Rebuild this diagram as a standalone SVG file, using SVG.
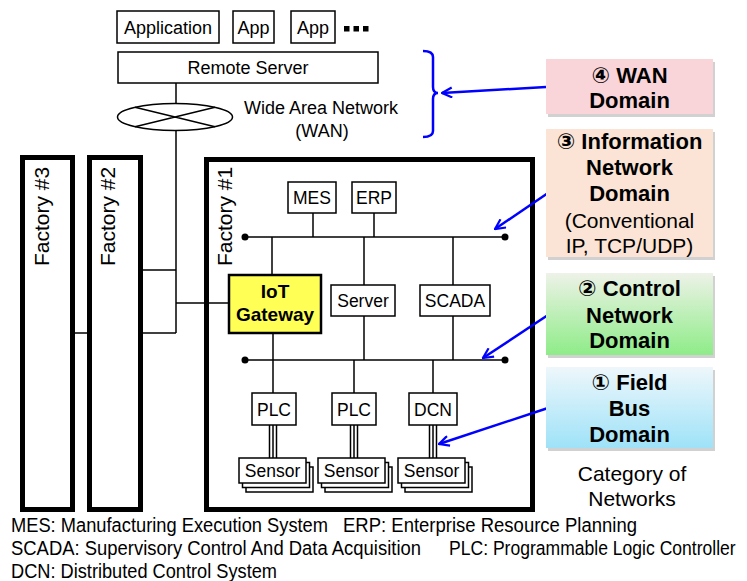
<svg xmlns="http://www.w3.org/2000/svg" width="747" height="581" viewBox="0 0 747 581">
<defs>
<style>
text{font-family:"Liberation Sans","DejaVu Sans",sans-serif;fill:#000}
.lbl{font-size:18px;text-anchor:middle}
.sm{font-size:17.5px;text-anchor:middle}
.box{fill:#fff;stroke:#000;stroke-width:1.5}
.ln{stroke:#000;stroke-width:1.5;fill:none}
.fac{fill:#fff;stroke:#000;stroke-width:5}
.fl{font-size:21px}
.dom{font-size:22px;font-weight:bold;text-anchor:middle}
.domr{font-size:21px;text-anchor:middle}
.blue{stroke:#0000ff;stroke-width:2.5;fill:none}
.leg{font-size:19.5px}
.shd{fill:#9a9a9a;opacity:.45}
</style>
<linearGradient id="gGreen" x1="0" y1="0" x2="0" y2="1"><stop offset="0" stop-color="#eef2e8"/><stop offset="1" stop-color="#8eec88"/></linearGradient>
<linearGradient id="gBlue" x1="0" y1="0" x2="0" y2="1"><stop offset="0" stop-color="#eef7fb"/><stop offset="1" stop-color="#9ee2f8"/></linearGradient>
<marker id="arr" viewBox="0 0 12 12" refX="11" refY="6" markerWidth="12" markerHeight="12" markerUnits="userSpaceOnUse" orient="auto"><path d="M1,1 L11,6 L1,11" fill="none" stroke="#0000ff" stroke-width="2.2"/></marker>
</defs>
<rect width="747" height="581" fill="#fff"/>

<g id="factory3"><rect class="fac" x="22.5" y="157.5" width="50" height="352"/><text class="fl" transform="translate(49,266) rotate(-90)">Factory #3</text></g>
<g id="factory2"><rect class="fac" x="89.5" y="157.5" width="51" height="352"/><text class="fl" transform="translate(115,266) rotate(-90)">Factory #2</text></g>
<g id="factory1"><rect class="fac" x="206.5" y="159.5" width="326" height="350"/><text class="fl" transform="translate(232,266) rotate(-90)">Factory #1</text></g>

<g id="connectors">
<line class="ln" x1="176" y1="83" x2="176" y2="104"/>
<line class="ln" x1="176" y1="130" x2="176" y2="333"/>
<line class="ln" x1="143" y1="270" x2="176" y2="270"/>
<line class="ln" x1="143" y1="333" x2="176" y2="333"/>
<line class="ln" x1="176" y1="303" x2="229" y2="303"/>
<line class="ln" x1="75" y1="333" x2="87" y2="333"/>
<line class="ln" x1="245" y1="237" x2="505" y2="237"/>
<line class="ln" x1="245" y1="360" x2="505" y2="360"/>
<circle cx="245" cy="237" r="3.5"/><circle cx="505" cy="237" r="3.5"/>
<circle cx="245" cy="360" r="3.5"/><circle cx="505" cy="360" r="3.5"/>
<line class="ln" x1="313" y1="213" x2="313" y2="237"/>
<line class="ln" x1="374" y1="213" x2="374" y2="237"/>
<line class="ln" x1="272" y1="237" x2="272" y2="275"/>
<line class="ln" x1="364" y1="237" x2="364" y2="285"/>
<line class="ln" x1="453" y1="237" x2="453" y2="285"/>
<line class="ln" x1="273" y1="333" x2="273" y2="393"/>
<line class="ln" x1="364" y1="316" x2="364" y2="360"/>
<line class="ln" x1="453" y1="316" x2="453" y2="360"/>
<line class="ln" x1="354" y1="360" x2="354" y2="393"/>
<line class="ln" x1="433" y1="360" x2="433" y2="393"/>
<path class="ln" d="M269.5,425V458M273,425V458M276.5,425V458"/>
<path class="ln" d="M350.5,425V458M354,425V458M357.5,425V458"/>
<path class="ln" d="M429.5,425V458M433,425V458M436.5,425V458"/>
<path class="blue" d="M423,51 Q433,51 433,57 L433,87 Q433,93 438,93 Q433,93 433,99 L433,131 Q433,137 423,137"/>
<line class="blue" x1="546" y1="87" x2="442" y2="93" marker-end="url(#arr)"/>
<line class="blue" x1="548" y1="193" x2="495" y2="229" marker-end="url(#arr)"/>
<line class="blue" x1="548" y1="315" x2="483" y2="358" marker-end="url(#arr)"/>
<line class="blue" x1="548" y1="408" x2="439" y2="444" marker-end="url(#arr)"/>
</g>

<g id="application"><rect class="box" x="117" y="11" width="102" height="32"/><text class="lbl" x="168" y="34">Application</text></g>
<g id="app1"><rect class="box" x="233" y="11" width="41" height="32"/><text class="lbl" x="253.5" y="34">App</text></g>
<g id="app2"><rect class="box" x="291" y="11" width="44" height="32"/><text class="lbl" x="313" y="34">App</text></g>
<g id="more"><rect x="344" y="26" width="5.5" height="5.5"/><rect x="353.5" y="26" width="5.5" height="5.5"/><rect x="363" y="26" width="5.5" height="5.5"/></g>
<g id="remote-server"><rect class="box" x="118" y="52" width="260" height="31"/><text class="lbl" x="248" y="74">Remote Server</text></g>
<g id="wan"><ellipse cx="175" cy="117" rx="57.5" ry="13.5" fill="#fff" stroke="#000" stroke-width="1.5"/><path class="ln" d="M135,107.3L215,126.7M135,126.7L215,107.3"/>
<text class="lbl" x="321" y="114">Wide Area Network</text><text class="lbl" x="322" y="137">(WAN)</text></g>

<g id="mes"><rect class="box" x="288" y="182" width="48" height="31"/><text class="sm" x="312" y="204">MES</text></g>
<g id="erp"><rect class="box" x="352" y="182" width="44" height="31"/><text class="sm" x="374" y="204">ERP</text></g>
<g id="iot-gateway"><rect x="229" y="275" width="92" height="58" fill="#ffff55" stroke="#000" stroke-width="2.5"/><text x="275" y="298" font-size="19" font-weight="bold" text-anchor="middle">IoT</text><text x="275" y="321" font-size="19" font-weight="bold" text-anchor="middle">Gateway</text></g>
<g id="server"><rect class="box" x="331" y="285" width="64" height="31"/><text class="sm" x="363" y="307">Server</text></g>
<g id="scada"><rect class="box" x="420" y="285" width="70" height="31"/><text class="sm" x="455" y="307">SCADA</text></g>
<g id="plc1"><rect class="box" x="252" y="393" width="44" height="32"/><text class="sm" x="274" y="415.5">PLC</text></g>
<g id="plc2"><rect class="box" x="332" y="393" width="44" height="32"/><text class="sm" x="354" y="415.5">PLC</text></g>
<g id="dcn"><rect class="box" x="409" y="393" width="48" height="32"/><text class="sm" x="433" y="415.5">DCN</text></g>
<g id="sensor1"><rect class="box" x="246" y="467" width="67" height="25"/><rect class="box" x="242.5" y="462.5" width="67" height="25"/><rect class="box" x="239" y="458" width="67" height="25"/><text class="sm" x="272.5" y="477">Sensor</text></g>
<g id="sensor2"><rect class="box" x="325" y="467" width="67" height="25"/><rect class="box" x="321.5" y="462.5" width="67" height="25"/><rect class="box" x="318" y="458" width="67" height="25"/><text class="sm" x="351.5" y="477">Sensor</text></g>
<g id="sensor3"><rect class="box" x="405" y="467" width="67" height="25"/><rect class="box" x="401.5" y="462.5" width="67" height="25"/><rect class="box" x="398" y="458" width="67" height="25"/><text class="sm" x="431.5" y="477">Sensor</text></g>

<g id="wan-domain"><rect class="shd" x="548" y="62" width="167" height="55"/><rect x="546" y="59" width="167" height="55" fill="#f9d4d9"/><text class="dom" x="629.5" y="83">④ WAN</text><text class="dom" x="629.5" y="108">Domain</text></g>
<g id="info-domain"><rect class="shd" x="548" y="132" width="167" height="128"/><rect x="546" y="129" width="167" height="128" fill="#fbe4d5"/><text class="dom" x="629.5" y="149">③ Information</text><text class="dom" x="629.5" y="175">Network</text><text class="dom" x="629.5" y="201">Domain</text><text class="domr" x="629.5" y="228">(Conventional</text><text class="domr" x="629.5" y="253">IP, TCP/UDP)</text></g>
<g id="control-domain"><rect class="shd" x="548" y="276" width="167" height="82"/><rect x="546" y="273" width="167" height="82" fill="url(#gGreen)"/><text class="dom" x="629.5" y="296">② Control</text><text class="dom" x="629.5" y="323">Network</text><text class="dom" x="629.5" y="348">Domain</text></g>
<g id="field-domain"><rect class="shd" x="548" y="370" width="167" height="81"/><rect x="546" y="367" width="167" height="81" fill="url(#gBlue)"/><text class="dom" x="629.5" y="390">① Field</text><text class="dom" x="629.5" y="416">Bus</text><text class="dom" x="629.5" y="442">Domain</text></g>
<g id="category"><text class="domr" x="632" y="481">Category of</text><text class="domr" x="632" y="506">Networks</text></g>

<g id="legend">
<text class="leg" x="11" y="532" textLength="317" lengthAdjust="spacingAndGlyphs">MES: Manufacturing Execution System</text>
<text class="leg" x="343" y="532" textLength="294" lengthAdjust="spacingAndGlyphs">ERP: Enterprise Resource Planning</text>
<text class="leg" x="11" y="555" textLength="410" lengthAdjust="spacingAndGlyphs">SCADA:  Supervisory Control And Data Acquisition</text>
<text class="leg" transform="translate(449,555) scale(0.9,1)">PLC: Programmable Logic Controller</text>
<text class="leg" x="11" y="578" textLength="266" lengthAdjust="spacingAndGlyphs">DCN: Distributed Control System</text>
</g>
</svg>
